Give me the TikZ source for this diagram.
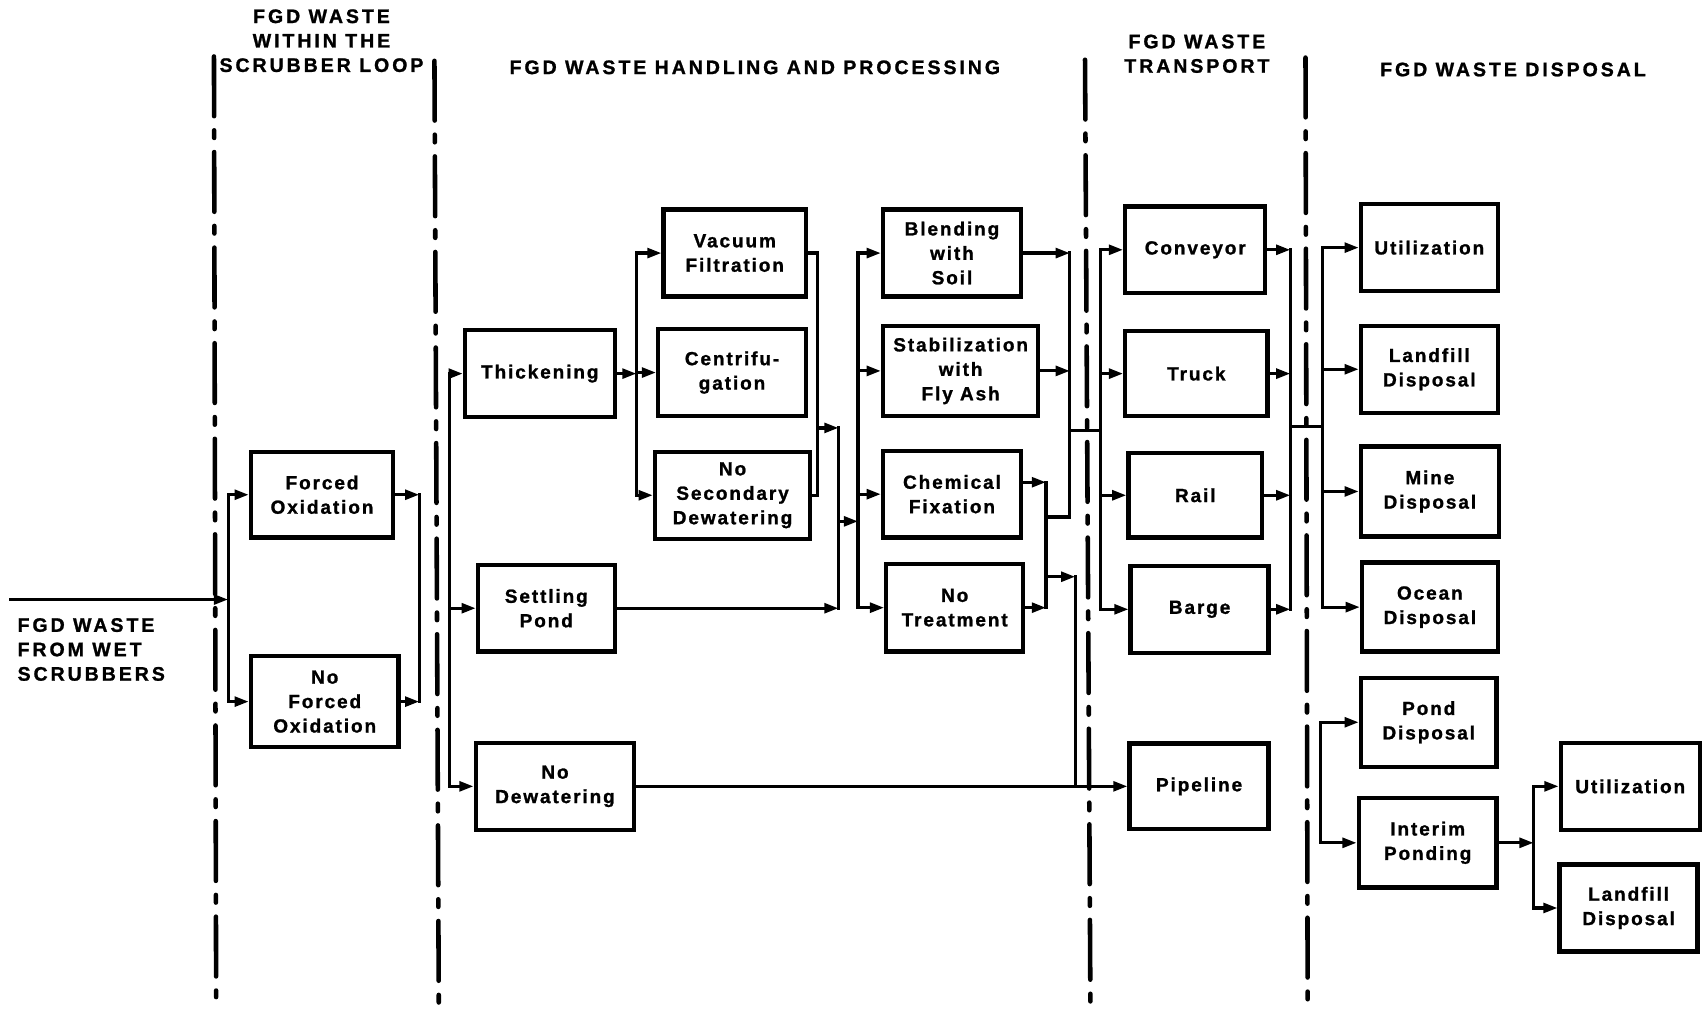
\documentclass[tikz,border=0pt]{standalone}
\usepackage{fontspec}
\setmainfont{Liberation Sans}
\newfontfamily\boxfont[LetterSpace=10,FakeBold=1.2]{Liberation Sans Bold}
\newfontfamily\headfont[LetterSpace=15,FakeBold=1.2]{Liberation Sans Bold}
\usetikzlibrary{arrows.meta,calc}

\tikzset{
  stage/.style={draw, line width=4pt, inner sep=0pt, align=center,
    font=\boxfont\fontsize{17.5}{22.5}\selectfont},
  head/.style={align=center, inner sep=0pt,
    font=\headfont\fontsize{18}{22.5}\selectfont},
  conn/.style={line width=2.9pt, line cap=rect},
  arr/.style={conn, -{Triangle[length=13pt,width=9pt]}},
  divider/.style={line width=4.2pt, line cap=round,
    dash pattern=on 55pt off 13pt on 7pt off 13pt},
}

\begin{document}
\begin{tikzpicture}[x=1pt,y=-1pt]
\useasboundingbox (0,0) rectangle (1568,929);

% ---- column dividers
\draw[divider] (197,52) -- (199,918);
\draw[divider] (400,56) -- (404,925);
\draw[divider] (999,55) -- (1004,929);
\draw[divider] (1202,53) -- (1204,925);

% ---- column headings
\node[head] (h1) at (296,37.5) {FGD WASTE\\WITHIN THE\\SCRUBBER LOOP};
\node[head] (h2) at (695,62) {FGD WASTE HANDLING AND PROCESSING};
\node[head] (h3) at (1102,49.5) {FGD WASTE\\TRANSPORT};
\node[head] (h4) at (1393,64) {FGD WASTE DISPOSAL};
\node[head, align=left, anchor=west] (src) at (16,598) {FGD WASTE\\FROM WET\\SCRUBBERS};

% ---- stages
\node[stage, minimum width=131pt, minimum height=79pt] (fo) at (296.5,455.5) {Forced\\Oxidation};
\node[stage, minimum width=136pt, minimum height=84pt] (nfo) at (299,646) {No\\Forced\\Oxidation};

\node[stage, minimum width=138pt, minimum height=80pt] (thick) at (497,344) {Thickening};
\node[stage, minimum width=126pt, minimum height=80pt] (settle) at (503,560) {Settling\\Pond};
\node[stage, minimum width=146pt, minimum height=80pt] (nodew) at (511,724) {No\\Dewatering};

\node[stage, minimum width=131pt, minimum height=80pt] (vac) at (676.5,233) {Vacuum\\Filtration};
\node[stage, minimum width=136pt, minimum height=80pt] (cent) at (674,343) {Centrifu-\\gation};
\node[stage, minimum width=143pt, minimum height=80pt] (nsd) at (674.5,456) {No\\Secondary\\Dewatering};

\node[stage, minimum width=127pt, minimum height=80pt] (blend) at (876.5,233) {Blending\\with\\Soil};
\node[stage, minimum width=143pt, minimum height=83pt] (stab) at (884.5,341.5) {Stabilization\\with\\Fly Ash};
\node[stage, minimum width=127pt, minimum height=80pt] (chem) at (876.5,455) {Chemical\\Fixation};
\node[stage, minimum width=126pt, minimum height=81pt] (notreat) at (879,559.5) {No\\Treatment};

\node[stage, minimum width=129pt, minimum height=80pt] (conv) at (1100.5,230) {Conveyor};
\node[stage, minimum width=131pt, minimum height=78pt] (truck) at (1101.5,344) {Truck};
\node[stage, minimum width=123pt, minimum height=78pt] (rail) at (1100.5,456) {Rail};
\node[stage, minimum width=127pt, minimum height=80pt] (barge) at (1104.5,561) {Barge};
\node[stage, minimum width=128pt, minimum height=79pt] (pipe) at (1104,724) {Pipeline};

\node[stage, minimum width=126pt, minimum height=80pt] (util) at (1316,228) {Utilization};
\node[stage, minimum width=126pt, minimum height=80pt] (landf) at (1316,340) {Landfill\\Disposal};
\node[stage, minimum width=127pt, minimum height=83pt] (mine) at (1316.5,452.5) {Mine\\Disposal};
\node[stage, minimum width=125pt, minimum height=82pt] (ocean) at (1316.5,559) {Ocean\\Disposal};
\node[stage, minimum width=125pt, minimum height=82pt] (pond) at (1315.5,665) {Pond\\Disposal};
\node[stage, minimum width=127pt, minimum height=82pt] (interim) at (1314.5,776) {Interim\\Ponding};
\node[stage, minimum width=128pt, minimum height=80pt] (util2) at (1501,724) {Utilization};
\node[stage, minimum width=127pt, minimum height=80pt] (land2) at (1499.5,836) {Landfill\\Disposal};

% ---- bus positions
\coordinate (b0) at (210,0);
\coordinate (b1) at (386,0);
\coordinate (b2) at (414,0);
\coordinate (b3) at (586,0);
\coordinate (b4) at (753,0);
\coordinate (b5) at (772,0);
\coordinate (b6) at (790,0);
\coordinate (b7) at (963,0);
\coordinate (b8) at (985,0);
\coordinate (b9) at (990,0);
\coordinate (b10) at (1013,0);
\coordinate (b11) at (1188,0);
\coordinate (b12) at (1218,0);
\coordinate (b13) at (1216,0);
\coordinate (b14) at (1412,0);

% ---- incoming waste and oxidation
\coordinate (in) at (10,552);
\draw[arr] (in) -- (in -| b0);
\draw[conn] (fo.west -| b0) -- (nfo.west -| b0);
\draw[arr] (fo.west -| b0) -- (fo.west);
\draw[arr] (nfo.west -| b0) -- (nfo.west);
\draw[arr] (fo.east) -- (fo.east -| b1);
\draw[arr] (nfo.east) -- (nfo.east -| b1);
\draw[conn] (fo.east -| b1) -- (nfo.east -| b1);

% ---- primary dewatering
\draw[conn] (thick.west -| b2) -- (nodew.west -| b2);
\draw[arr] (thick.west -| b2) -- (thick.west);
\draw[arr] (settle.west -| b2) -- (settle.west);
\draw[arr] (nodew.west -| b2) -- (nodew.west);

% ---- secondary dewatering
\draw[arr] (thick.east) -- (thick.east -| b3);
\draw[conn] (vac.west -| b3) -- (nsd.west -| b3);
\draw[arr] (vac.west -| b3) -- (vac.west);
\draw[arr] (cent.west -| b3) -- (cent.west);
\draw[arr] (nsd.west -| b3) -- (nsd.west);
\draw[conn] (vac.east) -- (vac.east -| b4) -- (nsd.east -| b4) -- (nsd.east);
\coordinate (j45) at (753,394);
\draw[arr] (j45) -- (j45 -| b5);
\draw[conn] (j45 -| b5) -- (settle.east -| b5);
\draw[arr] (settle.east) -- (settle.east -| b5);
\coordinate (j56) at (772,480);
\draw[arr] (j56) -- (j56 -| b6);

% ---- treatment
\draw[conn] (blend.west -| b6) -- (notreat.west -| b6);
\draw[arr] (blend.west -| b6) -- (blend.west);
\draw[arr] (stab.west -| b6) -- (stab.west);
\draw[arr] (chem.west -| b6) -- (chem.west);
\draw[arr] (notreat.west -| b6) -- (notreat.west);

\draw[arr] (blend.east) -- (blend.east -| b8);
\draw[arr] (stab.east) -- (stab.east -| b8);
\coordinate (chemout) at ($(chem.east)+(0,-11)$);
\draw[arr] (chemout) -- (chemout -| b7);
\draw[arr] (notreat.east) -- (notreat.east -| b7);
\draw[conn] (chemout -| b7) -- (notreat.east -| b7);
\coordinate (j78) at (963,476);
\draw[conn] (j78) -- (j78 -| b8);
\draw[conn] (blend.east -| b8) -- (j78 -| b8);
\coordinate (j79) at (963,531);
\draw[arr] (j79) -- (j79 -| b9);
\draw[conn] (j79 -| b9) -- (nodew.east -| b9);
\draw[arr] (nodew.east) -- (pipe.west);

% ---- transport
\coordinate (j810) at (985,396);
\draw[conn] (j810) -- (j810 -| b10);
\draw[conn] (conv.west -| b10) -- (barge.west -| b10);
\draw[arr] (conv.west -| b10) -- (conv.west);
\draw[arr] (truck.west -| b10) -- (truck.west);
\draw[arr] (rail.west -| b10) -- (rail.west);
\draw[arr] (barge.west -| b10) -- (barge.west);
\draw[arr] (conv.east) -- (conv.east -| b11);
\draw[arr] (truck.east) -- (truck.east -| b11);
\draw[arr] (rail.east) -- (rail.east -| b11);
\draw[arr] (barge.east) -- (barge.east -| b11);
\draw[conn] (conv.east -| b11) -- (barge.east -| b11);

% ---- disposal
\coordinate (j1112) at (1188,393);
\draw[conn] (j1112) -- (j1112 -| b12);
\draw[conn] (util.west -| b12) -- (ocean.west -| b12);
\draw[arr] (util.west -| b12) -- (util.west);
\draw[arr] (landf.west -| b12) -- (landf.west);
\draw[arr] (mine.west -| b12) -- (mine.west);
\draw[arr] (ocean.west -| b12) -- (ocean.west);

\draw[conn] (pond.west -| b13) -- (interim.west -| b13);
\draw[arr] (pond.west -| b13) -- (pond.west);
\draw[arr] (interim.west -| b13) -- (interim.west);
\draw[arr] (interim.east) -- (interim.east -| b14);
\draw[conn] (util2.west -| b14) -- (land2.west -| b14);
\draw[arr] (util2.west -| b14) -- (util2.west);
\draw[arr] (land2.west -| b14) -- (land2.west);
\end{tikzpicture}
\end{document}
